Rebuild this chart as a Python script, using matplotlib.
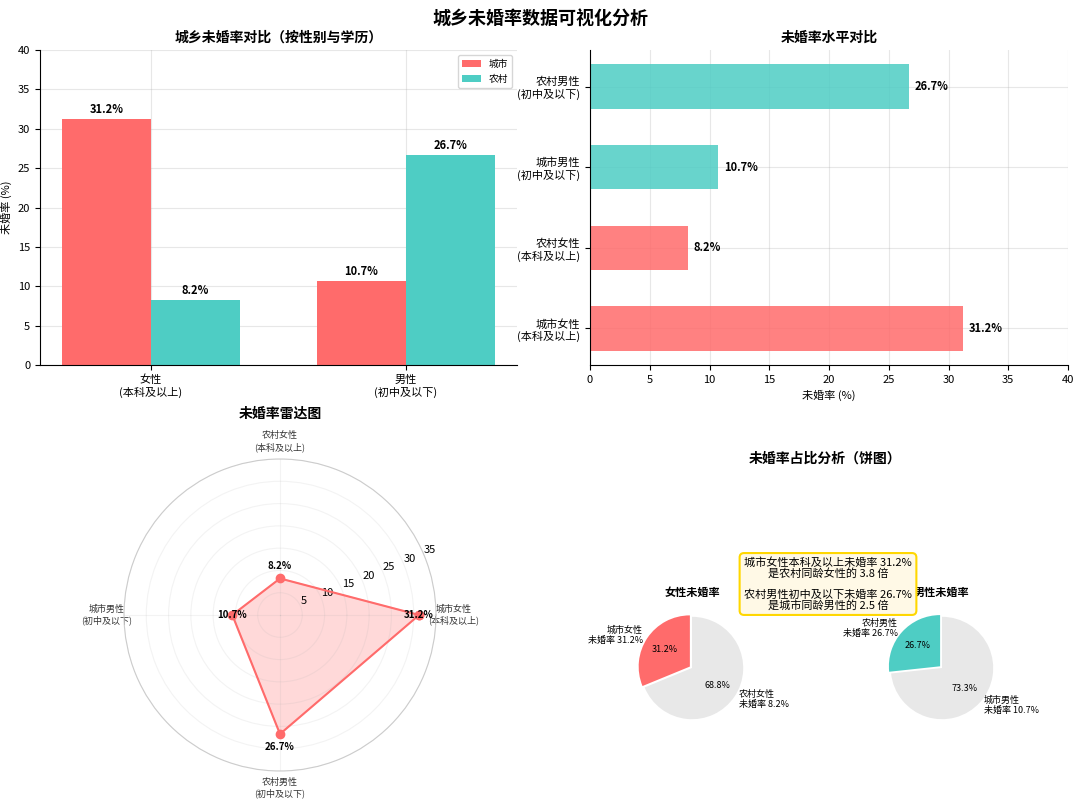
import matplotlib
matplotlib.use("Agg")
import matplotlib.pyplot as plt
import numpy as np

plt.rcParams['font.family'] = ['Noto Sans CJK SC', 'DejaVu Sans']
plt.rcParams['axes.unicode_minus'] = False

groups = ['女性\n(本科及以上)', '男性\n(初中及以下)']
city = [31.2, 10.7]
rural = [8.2, 26.7]
bar_labels = ['城市女性\n(本科及以上)', '农村女性\n(本科及以上)', '城市男性\n(初中及以下)', '农村男性\n(初中及以下)']
bar_values = [31.2, 8.2, 10.7, 26.7]
radar_labels = ['城市女性\n(本科及以上)', '农村女性\n(本科及以上)', '城市男性\n(初中及以下)', '农村男性\n(初中及以下)']
radar_values = [31.2, 8.2, 10.7, 26.7]
female_pie = [31.2, 68.8]
female_pie_labels = ['城市女性\n未婚率 31.2%', '农村女性\n未婚率 8.2%']
male_pie = [26.7, 73.3]
male_pie_labels = ['农村男性\n未婚率 26.7%', '城市男性\n未婚率 10.7%']

RED = '#FF6B6B'
TEAL = '#4ECDC4'
GRAY = '#E8E8E8'

fig = plt.figure(figsize=(10.8, 8.02), dpi=100)
fig.suptitle('城乡未婚率数据可视化分析', fontsize=13, fontweight='bold', y=0.988)

# Top-left
ax1 = fig.add_axes([40/1080, 1-365/802, 477/1080, 315/802])
x = np.arange(len(groups))
w = 0.35
b1 = ax1.bar(x - w/2, city, w, color=RED, label='城市')
b2 = ax1.bar(x + w/2, rural, w, color=TEAL, label='农村')
for bars in (b1, b2):
    for b in bars:
        ax1.text(b.get_x()+b.get_width()/2, b.get_height()+0.4, f'{b.get_height():.1f}%',
                 ha='center', va='bottom', fontsize=8, fontweight='bold')
ax1.set_xticks(x)
ax1.set_xticklabels(groups, fontsize=8)
ax1.set_ylim(0, 40)
ax1.set_ylabel('未婚率 (%)', fontsize=8)
ax1.tick_params(labelsize=8)
ax1.set_title('城乡未婚率对比（按性别与学历）', fontsize=10, fontweight='bold')
ax1.legend(fontsize=7, loc='upper right')
ax1.grid(alpha=0.3)
ax1.set_axisbelow(True)
for s in ('top', 'right'):
    ax1.spines[s].set_visible(False)

# Top-right
ax2 = fig.add_axes([590/1080, 1-365/802, 478/1080, 315/802])
cols = [RED, RED, TEAL, TEAL]
ax2.barh(np.arange(4), bar_values, height=0.55, color=cols, alpha=0.85)
for i, v in enumerate(bar_values):
    ax2.text(v+0.5, i, f'{v:.1f}%', va='center', fontsize=8, fontweight='bold')
ax2.set_yticks(np.arange(4))
ax2.set_yticklabels(bar_labels, fontsize=7)
ax2.set_xlim(0, 40)
ax2.set_xlabel('未婚率 (%)', fontsize=8)
ax2.tick_params(labelsize=8)
ax2.set_title('未婚率水平对比', fontsize=10, fontweight='bold')
ax2.grid(alpha=0.3)
ax2.set_axisbelow(True)
for s in ('top', 'right'):
    ax2.spines[s].set_visible(False)

# Radar
ax3 = fig.add_axes([124/1080, 1-771/802, 312/1080, 312/802], projection='polar')
ang = np.linspace(0, 2*np.pi, len(radar_values), endpoint=False)
va = np.concatenate([radar_values, radar_values[:1]])
aa = np.concatenate([ang, ang[:1]])
ax3.plot(aa, va, 'o-', color=RED, lw=1.5, ms=6)
ax3.fill(aa, va, color=RED, alpha=0.25)
ax3.set_xticks(ang)
ax3.set_xticklabels(radar_labels, fontsize=6.5, color='#333333')
ax3.tick_params(axis='x', pad=2)
ax3.set_ylim(0, 35)
ax3.set_yticks([5, 10, 15, 20, 25, 30, 35])
ax3.set_rlabel_position(22.5)
ax3.tick_params(axis='y', labelsize=8)
ax3.grid(alpha=0.15)
ax3.spines['polar'].set_color('#cccccc')
offs = [(0, 0), (0, 2.8), (0, 0), (0, -3)]
for a, v, (dx, dy) in zip(ang, radar_values, offs):
    xx = v*np.cos(a); yy = v*np.sin(a) + dy
    r = np.hypot(xx, yy); t = np.arctan2(yy, xx)
    ax3.text(t, r, f'{v:.1f}%', ha='center', va='center', fontsize=7, fontweight='bold')
ax3.set_title('未婚率雷达图', fontsize=10, fontweight='bold', pad=30)

# Pies
fig.text(825/1080, 1-463/802, '未婚率占比分析（饼图）', fontsize=10, fontweight='bold', ha='center')
axp1 = fig.add_axes([628/1080, 1-733/802, 128/1080, 130/802])
axp1.pie(female_pie, labels=female_pie_labels, colors=[RED, GRAY], autopct='%1.1f%%',
         startangle=90, explode=(0.05, 0), textprops={'fontsize': 6.5})
axp1.set_title('女性未婚率', fontsize=8, fontweight='bold')
axp2 = fig.add_axes([878/1080, 1-733/802, 128/1080, 130/802])
axp2.pie(male_pie, labels=male_pie_labels, colors=[TEAL, GRAY], autopct='%1.1f%%',
         startangle=90, explode=(0.05, 0), textprops={'fontsize': 6.5})
axp2.set_title('男性未婚率', fontsize=8, fontweight='bold')
fig.text(828/1080, 1-584/802,
         '城市女性本科及以上未婚率 31.2%\n是农村同龄女性的 3.8 倍\n\n农村男性初中及以下未婚率 26.7%\n是城市同龄男性的 2.5 倍',
         ha='center', va='center', fontsize=8, linespacing=1.0,
         bbox=dict(boxstyle='round,pad=0.4', fc='#FFF9E6', ec='gold', lw=1.5))

fig.savefig('out.png', dpi=100)
